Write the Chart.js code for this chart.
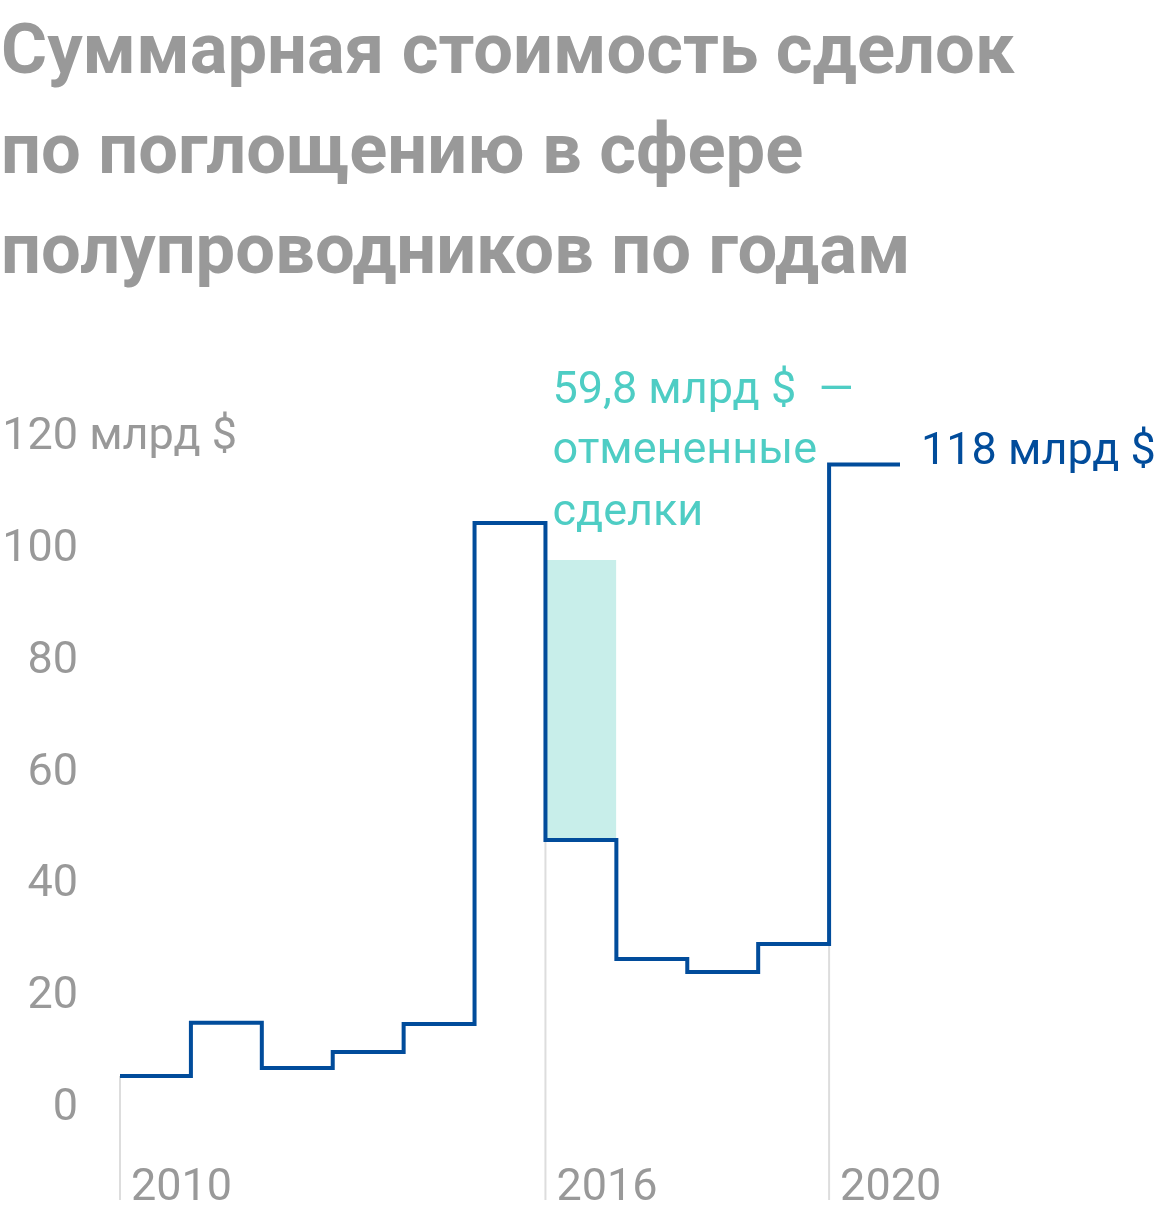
<!DOCTYPE html>
<html lang="ru">
<head>
<meta charset="utf-8">
<script src="https://cdn.jsdelivr.net/npm/chart.js@4/dist/chart.umd.min.js"></script>
<style>
  html, body { margin: 0; padding: 0; background: #fff; width: 1160px; height: 1216px; overflow: hidden; }
  #title {
    position: absolute; left: 1px; top: -1px; margin: 0;
    font-family: Roboto, "Noto Sans", sans-serif; font-weight: 700;
    font-size: 70.5px; line-height: 100px; color: #999999; letter-spacing: 0px;
  }
  #c { position: absolute; left: 0; top: 0; }
</style>
</head>
<body>
<canvas id="c" width="1160" height="1216"></canvas>
<h1 id="title">Суммарная стоимость сделок<br>по поглощению в сфере<br>полупроводников по годам</h1>
<script>
// ---- data ----
const years = [2010, 2011, 2012, 2013, 2014, 2015, 2016, 2017, 2018, 2019, 2020];
const dealValues = [8.6, 18.1, 10.0, 12.9, 17.9, 107.5, 50.8, 29.5, 27.2, 32.2, 118];
const cancelledYear = 2016;
const cancelledValue = 59.8;          // annotated value
const cancelledTop = 100.9;           // top of shaded block
const yTicks = [0, 20, 40, 60, 80, 100, 120];
const yUnit = ' млрд $';
const markedYears = [2010, 2016, 2020];
const lastLabel = '118 млрд $';
const cancelledLabel = ['59,8 млрд $  —', 'отмененные', 'сделки'];

// ---- style constants ----
const BLUE = '#014c9b';
const TEAL_TEXT = '#4ecdc4';
const TEAL_FILL = '#c8eeea';
const GREY_TEXT = '#999999';
const GREY_LINE = '#dddddd';
const FONT = 'Roboto, "Noto Sans", sans-serif';
const AXIS_BOTTOM = -13.6;

// step line points
const stepPoints = years.map((y, i) => ({ x: y, y: dealValues[i] }));
stepPoints.push({ x: years[years.length - 1] + 1, y: dealValues[dealValues.length - 1] });

// grey markers below the line
const markerSets = markedYears.map(yr => {
  const i = years.indexOf(yr);
  const top = i > 0 ? Math.min(dealValues[i - 1], dealValues[i]) : dealValues[i];
  return {
    data: [{ x: yr, y: AXIS_BOTTOM }, { x: yr, y: top }],
    borderColor: GREY_LINE, borderWidth: 2, pointRadius: 0, fill: false
  };
});

const ci = years.indexOf(cancelledYear);
const cancelledSet = {
  data: [{ x: cancelledYear, y: cancelledTop }, { x: cancelledYear + 1, y: cancelledTop }],
  borderWidth: 0, borderColor: 'rgba(0,0,0,0)', backgroundColor: TEAL_FILL,
  pointRadius: 0, fill: { value: dealValues[ci] }
};

const labelsPlugin = {
  id: 'labels',
  afterDraw(chart) {
    const ctx = chart.ctx;
    const xs = chart.scales.x, ys = chart.scales.y;
    ctx.save();
    ctx.textBaseline = 'alphabetic';
    ctx.textAlign = 'left';
    ctx.font = '45px ' + FONT;
    // y tick labels
    ctx.fillStyle = GREY_TEXT;
    const numRight = 78;
    yTicks.forEach((v, k) => {
      const num = String(v);
      const w = ctx.measureText(num).width;
      const txt = k === yTicks.length - 1 ? num + yUnit : num;
      ctx.fillText(txt, numRight - w, ys.getPixelForValue(v) - 4);
    });
    // x labels
    markedYears.forEach(yr => {
      ctx.fillText(String(yr), xs.getPixelForValue(yr) + 11, ys.getPixelForValue(AXIS_BOTTOM));
    });
    // last value label
    ctx.fillStyle = BLUE;
    const lastX = xs.getPixelForValue(years[years.length - 1] + 1);
    ctx.fillText(lastLabel, lastX + 21, ys.getPixelForValue(dealValues[dealValues.length - 1]));
    // cancelled label
    ctx.fillStyle = TEAL_TEXT;
    const cx = xs.getPixelForValue(cancelledYear) + 7;
    const cy = ys.getPixelForValue(cancelledTop);
    [-157, -97, -35].forEach((dy, k) => ctx.fillText(cancelledLabel[k], cx, cy + dy));
    ctx.restore();
  }
};

const PX_X = 780 / 11;   // for axis range only
const PX_Y = 5.59;
new Chart(document.getElementById('c'), {
  type: 'line',
  data: {
    datasets: [
      {
        data: stepPoints, stepped: 'before', borderColor: BLUE, borderWidth: 4,
        pointRadius: 0, fill: false, borderJoinStyle: 'miter', borderCapStyle: 'butt'
      },
      ...markerSets,
      cancelledSet
    ]
  },
  options: {
    responsive: false,
    animation: false,
    devicePixelRatio: 1,
    layout: { padding: 0 },
    plugins: { legend: { display: false }, tooltip: { enabled: false }, title: { display: false } },
    scales: {
      x: { type: 'linear', display: false, min: 2010 - 120 / PX_X, max: 2010 + 1040 / PX_X },
      y: { type: 'linear', display: false, min: -92 / PX_Y, max: 1124 / PX_Y }
    }
  },
  plugins: [labelsPlugin]
});
</script>
</body>
</html>
